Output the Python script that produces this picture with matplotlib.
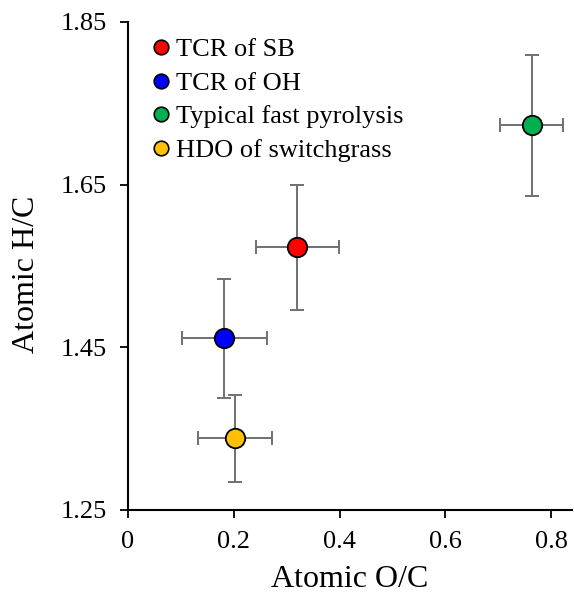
import matplotlib.pyplot as plt
from matplotlib.lines import Line2D

plt.rcParams['font.family'] = ['Liberation Serif', 'DejaVu Serif']

labels = ['TCR of SB', 'TCR of OH', 'Typical fast pyrolysis', 'HDO of switchgrass']
colors = ['#ff0000', '#0000ff', '#00b050', '#ffc000']
oc = [0.32, 0.182, 0.763, 0.202]
hc = [1.573, 1.461, 1.723, 1.338]
oc_err = [0.078, 0.08, 0.06, 0.07]
hc_err = [0.077, 0.073, 0.087, 0.054]

fig = plt.figure(figsize=(5.74, 5.96), dpi=100)
ax = fig.add_axes([0.223, 0.1443, 0.774, 0.8188])

for x, y, xe, ye, c in zip(oc, hc, oc_err, hc_err, colors):
    ax.errorbar(x, y, xerr=xe, yerr=ye, fmt='none', ecolor='#707070',
                elinewidth=1.4, capsize=5, capthick=1.4, zorder=2)
    ax.plot(x, y, 'o', ms=14, mfc=c, mec='black', mew=1.3, zorder=3)

ax.set_xlim(0, 0.84)
ax.set_ylim(1.25, 1.85)
ax.set_xticks([0, 0.2, 0.4, 0.6, 0.8])
ax.set_xticklabels(['0', '0.2', '0.4', '0.6', '0.8'])
ax.set_yticks([1.25, 1.45, 1.65, 1.85])
ax.set_yticklabels(['1.25', '1.45', '1.65', '1.85'])
ax.tick_params(direction='out', length=6, width=1.3, labelsize=19, pad=9)
for s in ['top', 'right']:
    ax.spines[s].set_visible(False)
for s in ['left', 'bottom']:
    ax.spines[s].set_linewidth(1.5)

ax.set_xlabel('Atomic O/C', fontsize=23)
ax.set_ylabel('Atomic H/C', fontsize=23)
ax.xaxis.set_label_coords(0.5, -0.112)
ax.yaxis.set_label_coords(-0.195, 0.482)

handles = [Line2D([], [], ls='none', marker='o', ms=10.5, mfc=c, mec='black', mew=1.2)
           for c in colors]
ax.legend(handles, labels, loc='upper left', bbox_to_anchor=(0.0, 1.005), frameon=False,
          fontsize=19, handletextpad=0.0, labelspacing=0.38, borderaxespad=0.3,
          handlelength=1.1)

fig.savefig('out.png', dpi=100)
